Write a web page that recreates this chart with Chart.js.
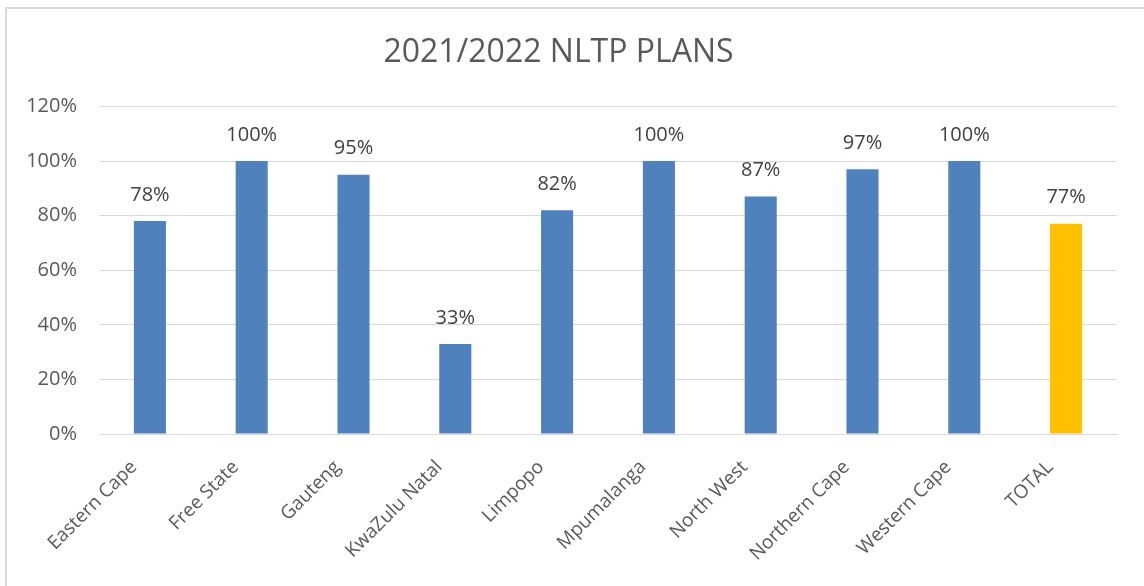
<!DOCTYPE html>
<html>
<head>
<meta charset="utf-8">
<title>2021/2022 NLTP PLANS</title>
<script src="https://cdn.jsdelivr.net/npm/chart.js@4.4.1/dist/chart.umd.min.js"></script>
<style>
  html, body { margin: 0; padding: 0; background: #fff; }
  .frame { position: absolute; left: 5px; top: 7px; width: 1160px; height: 600px;
           border-left: 2px solid #d9d9d9; border-top: 2px solid #d9d9d9; }
  .wrap { position: absolute; left: 0; top: 0; width: 1144px; height: 586px; }
</style>
</head>
<body>
<div class="frame"></div>
<div class="wrap"><canvas id="chart"></canvas></div>
<script>
const categories = ['Eastern Cape', 'Free State', 'Gauteng', 'KwaZulu Natal', 'Limpopo',
  'Mpumalanga', 'North West', 'Northern Cape', 'Western Cape', 'TOTAL'];
const planPct = [78, 100, 95, 33, 82, 100, 87, 97, 100, 77];
const barColors = ['#4f81bd', '#4f81bd', '#4f81bd', '#4f81bd', '#4f81bd',
  '#4f81bd', '#4f81bd', '#4f81bd', '#4f81bd', '#ffc000'];
const yTicks = [0, 20, 40, 60, 80, 100, 120];

const FONT = '"Open Sans", Calibri, sans-serif';

// value labels above bars
const valueLabels = {
  id: 'valueLabels',
  afterDatasetsDraw(chart) {
    const ctx = chart.ctx;
    const meta = chart.getDatasetMeta(0);
    ctx.save();
    ctx.font = '20px ' + FONT;
    ctx.fillStyle = '#404040';
    ctx.textAlign = 'center';
    ctx.textBaseline = 'bottom';
    meta.data.forEach((bar, i) => {
      ctx.fillText(planPct[i] + '%', bar.x, bar.y - 16);
    });
    ctx.restore();
  }
};

new Chart(document.getElementById('chart'), {
  type: 'bar',
  data: {
    labels: categories,
    datasets: [{ data: planPct, backgroundColor: barColors, categoryPercentage: 1, barPercentage: 0.315 }]
  },
  options: {
    responsive: true,
    maintainAspectRatio: false,
    animation: false,
    layout: { padding: { left: 0, right: 27, top: 0, bottom: 0 } },
    plugins: {
      legend: { display: false },
      tooltip: { enabled: false },
      title: {
        display: true,
        text: '2021/2022 NLTP PLANS',
        color: '#595959',
        font: { family: FONT, size: 32, weight: 'normal' },
        padding: { top: 34, bottom: 34 }
      }
    },
    scales: {
      x: {
        grid: { display: false },
        border: { color: '#d9d9d9', width: 1 },
        ticks: { color: '#595959', font: { family: FONT, size: 19 }, minRotation: 45, maxRotation: 45,
                 padding: 14, labelOffset: -16 },
        afterFit(scale) { scale.height = 586 - 434; }
      },
      y: {
        min: 0, max: 120,
        afterBuildTicks(scale) { scale.ticks = yTicks.map(v => ({ value: v })); },
        grid: { color: '#d9d9d9', lineWidth: 1, drawTicks: false },
        border: { display: false },
        ticks: { color: '#595959', font: { family: FONT, size: 20 }, padding: 22, callback: v => v + '%' },
        afterFit(scale) { scale.width = 99; }
      }
    }
  },
  plugins: [valueLabels]
});
</script>
</body>
</html>
